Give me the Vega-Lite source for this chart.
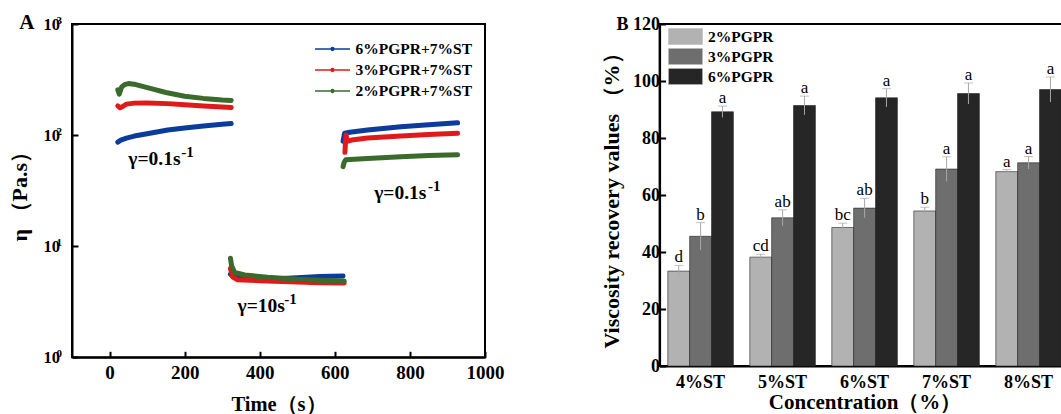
{
  "$schema": "https://vega.github.io/schema/vega-lite/v6.json",
  "background": "white",
  "padding": {"left": 7, "top": 10, "right": 0, "bottom": 0},
  "spacing": 174.6,
  "bounds": "flush",
  "config": {
    "font": "Liberation Serif",
    "view": {"stroke": "black", "strokeWidth": 2},
    "axis": {
      "grid": false,
      "domainColor": "black",
      "domainWidth": 2,
      "tickColor": "black",
      "tickWidth": 2,
      "tickSize": -6,
      "labelFont": "Liberation Serif",
      "labelFontWeight": "bold",
      "labelColor": "black",
      "titleFont": "Liberation Serif",
      "titleFontWeight": "bold",
      "titleColor": "black"
    },
    "legend": {"labelFont": "Liberation Serif", "labelFontWeight": "bold", "labelColor": "black"}
  },
  "datasets": {
    "visc": [
      {"t": 22, "eta": 86.5, "s": "6%PGPR+7%ST", "seg": 1},
      {"t": 30, "eta": 90, "s": "6%PGPR+7%ST", "seg": 1},
      {"t": 45, "eta": 94, "s": "6%PGPR+7%ST", "seg": 1},
      {"t": 66, "eta": 98, "s": "6%PGPR+7%ST", "seg": 1},
      {"t": 100, "eta": 103, "s": "6%PGPR+7%ST", "seg": 1},
      {"t": 155, "eta": 111, "s": "6%PGPR+7%ST", "seg": 1},
      {"t": 200, "eta": 116, "s": "6%PGPR+7%ST", "seg": 1},
      {"t": 250, "eta": 121, "s": "6%PGPR+7%ST", "seg": 1},
      {"t": 300, "eta": 125, "s": "6%PGPR+7%ST", "seg": 1},
      {"t": 324, "eta": 127, "s": "6%PGPR+7%ST", "seg": 1},
      {"t": 322, "eta": 5.6, "s": "6%PGPR+7%ST", "seg": 2},
      {"t": 330, "eta": 5.3, "s": "6%PGPR+7%ST", "seg": 2},
      {"t": 350, "eta": 5.15, "s": "6%PGPR+7%ST", "seg": 2},
      {"t": 420, "eta": 5.05, "s": "6%PGPR+7%ST", "seg": 2},
      {"t": 500, "eta": 5.2, "s": "6%PGPR+7%ST", "seg": 2},
      {"t": 560, "eta": 5.35, "s": "6%PGPR+7%ST", "seg": 2},
      {"t": 622, "eta": 5.4, "s": "6%PGPR+7%ST", "seg": 2},
      {"t": 622, "eta": 88, "s": "6%PGPR+7%ST", "seg": 3},
      {"t": 626, "eta": 104, "s": "6%PGPR+7%ST", "seg": 3},
      {"t": 640, "eta": 106, "s": "6%PGPR+7%ST", "seg": 3},
      {"t": 687, "eta": 111, "s": "6%PGPR+7%ST", "seg": 3},
      {"t": 776, "eta": 119, "s": "6%PGPR+7%ST", "seg": 3},
      {"t": 850, "eta": 124, "s": "6%PGPR+7%ST", "seg": 3},
      {"t": 927, "eta": 129, "s": "6%PGPR+7%ST", "seg": 3},
      {"t": 22, "eta": 183, "s": "3%PGPR+7%ST", "seg": 1},
      {"t": 28, "eta": 176, "s": "3%PGPR+7%ST", "seg": 1},
      {"t": 34, "eta": 180, "s": "3%PGPR+7%ST", "seg": 1},
      {"t": 45, "eta": 190, "s": "3%PGPR+7%ST", "seg": 1},
      {"t": 66, "eta": 194, "s": "3%PGPR+7%ST", "seg": 1},
      {"t": 100, "eta": 195, "s": "3%PGPR+7%ST", "seg": 1},
      {"t": 155, "eta": 192, "s": "3%PGPR+7%ST", "seg": 1},
      {"t": 200, "eta": 188, "s": "3%PGPR+7%ST", "seg": 1},
      {"t": 250, "eta": 183, "s": "3%PGPR+7%ST", "seg": 1},
      {"t": 300, "eta": 179, "s": "3%PGPR+7%ST", "seg": 1},
      {"t": 324, "eta": 177, "s": "3%PGPR+7%ST", "seg": 1},
      {"t": 322, "eta": 6.3, "s": "3%PGPR+7%ST", "seg": 2},
      {"t": 328, "eta": 5.3, "s": "3%PGPR+7%ST", "seg": 2},
      {"t": 340, "eta": 5.0, "s": "3%PGPR+7%ST", "seg": 2},
      {"t": 420, "eta": 4.85, "s": "3%PGPR+7%ST", "seg": 2},
      {"t": 500, "eta": 4.75, "s": "3%PGPR+7%ST", "seg": 2},
      {"t": 560, "eta": 4.7, "s": "3%PGPR+7%ST", "seg": 2},
      {"t": 625, "eta": 4.66, "s": "3%PGPR+7%ST", "seg": 2},
      {"t": 627, "eta": 70, "s": "3%PGPR+7%ST", "seg": 3},
      {"t": 628, "eta": 82, "s": "3%PGPR+7%ST", "seg": 3},
      {"t": 630, "eta": 100, "s": "3%PGPR+7%ST", "seg": 3},
      {"t": 633, "eta": 88, "s": "3%PGPR+7%ST", "seg": 3},
      {"t": 650, "eta": 91, "s": "3%PGPR+7%ST", "seg": 3},
      {"t": 687, "eta": 94, "s": "3%PGPR+7%ST", "seg": 3},
      {"t": 776, "eta": 98, "s": "3%PGPR+7%ST", "seg": 3},
      {"t": 850, "eta": 101, "s": "3%PGPR+7%ST", "seg": 3},
      {"t": 927, "eta": 104, "s": "3%PGPR+7%ST", "seg": 3},
      {"t": 22, "eta": 255, "s": "2%PGPR+7%ST", "seg": 1},
      {"t": 26, "eta": 234, "s": "2%PGPR+7%ST", "seg": 1},
      {"t": 32, "eta": 270, "s": "2%PGPR+7%ST", "seg": 1},
      {"t": 40, "eta": 285, "s": "2%PGPR+7%ST", "seg": 1},
      {"t": 50, "eta": 291, "s": "2%PGPR+7%ST", "seg": 1},
      {"t": 70, "eta": 285, "s": "2%PGPR+7%ST", "seg": 1},
      {"t": 111, "eta": 262, "s": "2%PGPR+7%ST", "seg": 1},
      {"t": 150, "eta": 242, "s": "2%PGPR+7%ST", "seg": 1},
      {"t": 200, "eta": 224, "s": "2%PGPR+7%ST", "seg": 1},
      {"t": 250, "eta": 214, "s": "2%PGPR+7%ST", "seg": 1},
      {"t": 300, "eta": 207, "s": "2%PGPR+7%ST", "seg": 1},
      {"t": 324, "eta": 205, "s": "2%PGPR+7%ST", "seg": 1},
      {"t": 322, "eta": 7.8, "s": "2%PGPR+7%ST", "seg": 2},
      {"t": 325, "eta": 6.7, "s": "2%PGPR+7%ST", "seg": 2},
      {"t": 333, "eta": 5.8, "s": "2%PGPR+7%ST", "seg": 2},
      {"t": 360, "eta": 5.5, "s": "2%PGPR+7%ST", "seg": 2},
      {"t": 421, "eta": 5.26, "s": "2%PGPR+7%ST", "seg": 2},
      {"t": 500, "eta": 5.05, "s": "2%PGPR+7%ST", "seg": 2},
      {"t": 560, "eta": 4.95, "s": "2%PGPR+7%ST", "seg": 2},
      {"t": 625, "eta": 4.85, "s": "2%PGPR+7%ST", "seg": 2},
      {"t": 622, "eta": 52, "s": "2%PGPR+7%ST", "seg": 3},
      {"t": 625, "eta": 57, "s": "2%PGPR+7%ST", "seg": 3},
      {"t": 629, "eta": 60, "s": "2%PGPR+7%ST", "seg": 3},
      {"t": 687, "eta": 61.5, "s": "2%PGPR+7%ST", "seg": 3},
      {"t": 776, "eta": 64, "s": "2%PGPR+7%ST", "seg": 3},
      {"t": 850, "eta": 65.5, "s": "2%PGPR+7%ST", "seg": 3},
      {"t": 927, "eta": 66.7, "s": "2%PGPR+7%ST", "seg": 3}
    ],
    "notes": [
      {"t": 50, "tsup": 191, "eta": 54.3, "label": "γ=0.1s", "sup": "-1"},
      {"t": 341, "tsup": 465, "eta": 2.56, "label": "γ=10s", "sup": "-1"},
      {"t": 705, "tsup": 848, "eta": 26.4, "label": "γ=0.1s", "sup": "-1"}
    ],
    "expo": [
      {"eta": 1, "e": "0"},
      {"eta": 10, "e": "1"},
      {"eta": 100, "e": "2"},
      {"eta": 1000, "e": "3"}
    ],
    "panel": [
      {"eta": 1000, "p": "A"}
    ],
    "recovery": [
      {"conc": "4%ST", "grp": "2%PGPR", "v": 33.3, "lo": 31.3, "hi": 35.3, "sig": "d"},
      {"conc": "4%ST", "grp": "3%PGPR", "v": 45.5, "lo": 40.7, "hi": 50.3, "sig": "b"},
      {"conc": "4%ST", "grp": "6%PGPR", "v": 89.2, "lo": 87.2, "hi": 91.2, "sig": "a"},
      {"conc": "5%ST", "grp": "2%PGPR", "v": 38.2, "lo": 37.2, "hi": 39.2, "sig": "cd"},
      {"conc": "5%ST", "grp": "3%PGPR", "v": 52.0, "lo": 49.2, "hi": 54.8, "sig": "ab"},
      {"conc": "5%ST", "grp": "6%PGPR", "v": 91.4, "lo": 88.1, "hi": 94.7, "sig": "a"},
      {"conc": "6%ST", "grp": "2%PGPR", "v": 48.6, "lo": 47.1, "hi": 50.1, "sig": "bc"},
      {"conc": "6%ST", "grp": "3%PGPR", "v": 55.4, "lo": 52.0, "hi": 58.8, "sig": "ab"},
      {"conc": "6%ST", "grp": "6%PGPR", "v": 94.1, "lo": 90.9, "hi": 97.3, "sig": "a"},
      {"conc": "7%ST", "grp": "2%PGPR", "v": 54.4, "lo": 53.1, "hi": 55.7, "sig": "b"},
      {"conc": "7%ST", "grp": "3%PGPR", "v": 69.1, "lo": 64.8, "hi": 73.4, "sig": "a"},
      {"conc": "7%ST", "grp": "6%PGPR", "v": 95.6, "lo": 91.9, "hi": 99.3, "sig": "a"},
      {"conc": "8%ST", "grp": "2%PGPR", "v": 68.2, "lo": 67.5, "hi": 68.9, "sig": "a"},
      {"conc": "8%ST", "grp": "3%PGPR", "v": 71.3, "lo": 69.1, "hi": 73.5, "sig": "a"},
      {"conc": "8%ST", "grp": "6%PGPR", "v": 97.0, "lo": 92.6, "hi": 101.4, "sig": "a"}
    ]
  },
  "hconcat": [
    {
      "width": 413,
      "height": 333.3,
      "layer": [
        {
          "data": {"name": "visc"},
          "mark": {"type": "line", "strokeWidth": 5, "strokeCap": "round", "strokeJoin": "round"},
          "encoding": {
            "x": {"field": "t", "type": "quantitative", "scale": {"domain": [-100, 1000], "nice": false, "zero": false},
              "axis": {"values": [0, 200, 400, 600, 800, 1000], "format": "d", "labelFlush": false, "title": "Time（s）", "labelFontSize": 19, "titleFontSize": 20.5, "labelPadding": 12, "titlePadding": 12}},
            "y": {"field": "eta", "type": "quantitative", "scale": {"type": "log", "domain": [1, 1000], "nice": false},
              "axis": {"values": [1, 10, 100, 1000], "labelExpr": "'10'", "title": "η （Pa.s）", "labelFontSize": 16.5, "titleFontSize": 22, "labelPadding": 18.5, "titleX": -41}},
            "color": {"field": "s", "type": "nominal",
              "scale": {"domain": ["6%PGPR+7%ST", "3%PGPR+7%ST", "2%PGPR+7%ST"], "range": ["#0b3c9c", "#e01a1a", "#3a6b2c"]},
              "legend": {"title": null, "orient": "none", "legendX": 249.5, "legendY": 14, "labelFontSize": 15.5, "symbolType": "M-1.75,0H1.75M-0.14,0A0.14,0.14 0 1,0 0.14,0A0.14,0.14 0 1,0 -0.14,0", "symbolSize": 400, "symbolStrokeWidth": 1.5, "rowPadding": 1, "labelOffset": 12}},
            "detail": {"field": "seg", "type": "nominal"}
          }
        },
        {
          "data": {"name": "notes"},
          "mark": {"type": "text", "align": "left", "baseline": "alphabetic", "fontSize": 19.5, "fontWeight": "bold", "font": "Liberation Serif", "color": "black"},
          "encoding": {
            "x": {"field": "t", "type": "quantitative"},
            "y": {"field": "eta", "type": "quantitative"},
            "text": {"field": "label"}
          }
        },
        {
          "data": {"name": "notes"},
          "mark": {"type": "text", "align": "left", "baseline": "alphabetic", "dy": -8, "fontSize": 15, "fontWeight": "bold", "font": "Liberation Serif", "color": "black"},
          "encoding": {
            "x": {"field": "tsup", "type": "quantitative"},
            "y": {"field": "eta", "type": "quantitative"},
            "text": {"field": "sup"}
          }
        },
        {
          "data": {"name": "expo"},
          "mark": {"type": "text", "align": "left", "baseline": "alphabetic", "dx": -15.5, "dy": 0, "fontSize": 11, "fontWeight": "bold", "font": "Liberation Serif", "color": "black"},
          "encoding": {
            "x": {"datum": -100, "type": "quantitative"},
            "y": {"field": "eta", "type": "quantitative"},
            "text": {"field": "e"}
          }
        },
        {
          "data": {"name": "panel"},
          "mark": {"type": "text", "align": "right", "baseline": "alphabetic", "dx": -37.5, "dy": 4.5, "fontSize": 21, "fontWeight": "bold", "font": "Liberation Serif", "color": "black"},
          "encoding": {
            "x": {"datum": -100, "type": "quantitative"},
            "y": {"field": "eta", "type": "quantitative"},
            "text": {"field": "p"}
          }
        }
      ]
    },
    {
      "width": 410,
      "height": 342,
      "data": {"name": "recovery"},
      "encoding": {
        "x": {"field": "conc", "type": "nominal", "sort": ["4%ST", "5%ST", "6%ST", "7%ST", "8%ST"],
          "scale": {"paddingInner": 0.2, "paddingOuter": 0.1},
          "axis": {"title": "Concentration（%）", "labelAngle": 0, "labelFontSize": 18, "titleFontSize": 21, "ticks": false, "labelPadding": 7, "titlePadding": 0}},
        "xOffset": {"field": "grp", "type": "nominal", "sort": ["2%PGPR", "3%PGPR", "6%PGPR"], "scale": {"paddingInner": 0, "paddingOuter": 0}}
      },
      "layer": [
        {
          "mark": {"type": "bar", "stroke": "#222222", "strokeWidth": 0.6},
          "encoding": {
            "y": {"field": "v", "type": "quantitative", "scale": {"domain": [0, 120], "nice": false},
              "axis": {"values": [0, 20, 40, 60, 80, 100, 120], "labelExpr": "datum.value == 120 ? 'B  120' : datum.label", "title": "Viscosity recovery values （%）", "labelFontSize": 18, "titleFontSize": 22, "labelPadding": 6, "titleX": -36.6}},
            "fill": {"field": "grp", "type": "nominal",
              "scale": {"domain": ["2%PGPR", "3%PGPR", "6%PGPR"], "range": ["#b2b2b2", "#6e6e6e", "#262626"]},
              "legend": {"title": null, "orient": "none", "legendX": 603, "legendY": 2, "labelFontSize": 15.5, "symbolType": "M-1.7,-0.8H1.7V0.8H-1.7Z", "symbolSize": 400, "symbolStrokeColor": "#bbbbbb", "symbolStrokeWidth": 0.5, "rowPadding": 0, "labelOffset": 12}}
          }
        },
        {
          "mark": {"type": "rule", "color": "#a8a8a8", "strokeWidth": 1},
          "encoding": {
            "y": {"field": "lo", "type": "quantitative"},
            "y2": {"field": "hi"}
          }
        },
        {
          "mark": {"type": "tick", "color": "#a8a8a8", "thickness": 1, "size": 9},
          "encoding": {
            "y": {"field": "hi", "type": "quantitative"}
          }
        },
        {
          "mark": {"type": "text", "baseline": "alphabetic", "dy": -3, "fontSize": 17, "font": "Liberation Serif", "color": "black"},
          "encoding": {
            "y": {"field": "hi", "type": "quantitative"},
            "text": {"field": "sig"}
          }
        }
      ]
    }
  ]
}
